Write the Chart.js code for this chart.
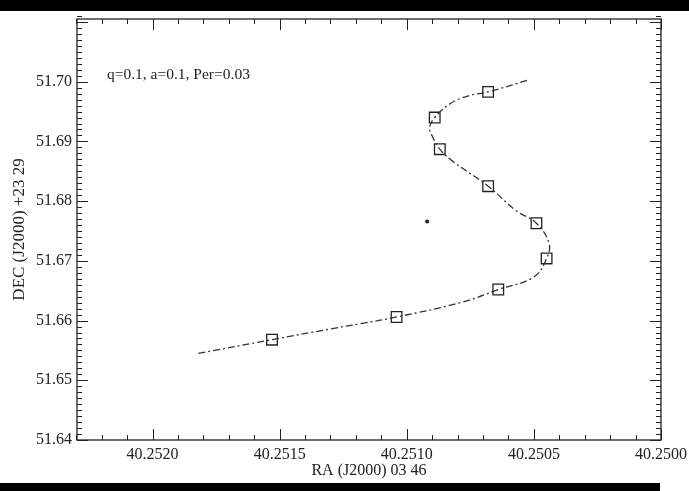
<!DOCTYPE html>
<html>
<head>
<meta charset="utf-8">
<script src="https://cdn.jsdelivr.net/npm/chart.js@4/dist/chart.umd.min.js"></script>
<style>
  html, body { margin: 0; padding: 0; background: #fff; }
  #wrap { width: 689px; height: 491px; }
</style>
</head>
<body>
<div id="wrap"><canvas id="chart" width="689" height="491"></canvas></div>
<script>
// trajectory (RA, DEC)
const trackRa  = [40.25182, 40.25153, 40.25130, 40.25118, 40.25104, 40.25078, 40.25064, 40.25050,
                  40.25045, 40.25044, 40.25049, 40.25057, 40.25068, 40.25082, 40.25087, 40.25090,
                  40.25091, 40.25089, 40.25083, 40.25076, 40.25068, 40.25052];
const trackDec = [51.6545, 51.6568, 51.6586, 51.6595, 51.6606, 51.6631, 51.6652, 51.6673,
                  51.6704, 51.6729, 51.6763, 51.6784, 51.6825, 51.6867, 51.6887, 51.6909,
                  51.6923, 51.6940, 51.6963, 51.6976, 51.6983, 51.7003];

// epochs marked with squares
const epochRa  = [40.25153, 40.25104, 40.25064, 40.25045, 40.25049, 40.25068, 40.25087, 40.25089, 40.25068];
const epochDec = [51.6568, 51.6606, 51.6652, 51.6704, 51.6763, 51.6825, 51.6887, 51.6940, 51.6983];

// centre of mass
const centreRa = [40.25092];
const centreDec = [51.6766];

const xTicks = [40.2520, 40.2515, 40.2510, 40.2505, 40.2500];
const yTicks = [51.64, 51.65, 51.66, 51.67, 51.68, 51.69, 51.70];
const xLimits = [40.2500, 40.252297];
const yLimits = [51.64, 51.7105];
const xMinorStep = 0.0001;
const yMinorStep = 0.001;

const ink = '#222';
Chart.defaults.font.family = '"Liberation Serif", "DejaVu Serif", serif';
Chart.defaults.color = ink;

function pairs(xs, ys) {
    return xs.map((v, i) => ({ x: v, y: ys[i] }));
}

const idlFrame = {
    id: 'idlFrame',
    beforeDraw(chart) {
        const ctx = chart.ctx;
        ctx.save();
        ctx.fillStyle = '#000';
        ctx.fillRect(0, 0, chart.width, 11);
        ctx.fillRect(0, 483, 660, 8);
        ctx.restore();
    },
    afterDraw(chart) {
        const { ctx, chartArea: a, scales: { x, y } } = chart;
        ctx.save();
        ctx.strokeStyle = ink;
        ctx.lineWidth = 1.3;
        ctx.strokeRect(a.left, a.top, a.right - a.left, a.bottom - a.top);

        ctx.lineWidth = 1;
        ctx.beginPath();
        const nx = Math.round((xLimits[1] - xLimits[0]) / xMinorStep);
        for (let i = 0; i <= nx; i++) {
            const px = Math.round(x.getPixelForValue(xLimits[0] + i * xMinorStep)) + 0.5;
            const len = i % 5 === 0 ? 11 : 5;
            ctx.moveTo(px, a.bottom); ctx.lineTo(px, a.bottom - len);
            ctx.moveTo(px, a.top); ctx.lineTo(px, a.top + len);
        }
        const ny = Math.round((yLimits[1] - yLimits[0]) / yMinorStep);
        for (let i = 0; i <= ny; i++) {
            const py = Math.round(y.getPixelForValue(yLimits[0] + i * yMinorStep)) + 0.5;
            const len = i % 10 === 0 ? 11 : 5;
            ctx.moveTo(a.left, py); ctx.lineTo(a.left + len, py);
            ctx.moveTo(a.right, py); ctx.lineTo(a.right - len, py);
        }
        ctx.stroke();

        ctx.fillStyle = ink;
        ctx.font = '15.5px "Liberation Serif"';
        ctx.textBaseline = 'middle';
        ctx.fillText('q=0.1, a=0.1, Per=0.03', 107, 75);
        ctx.restore();
    }
};

new Chart(document.getElementById('chart'), {
    type: 'scatter',
    data: {
        datasets: [{
            label: 'track',
            data: pairs(trackRa, trackDec),
            showLine: true,
            tension: 0.4,
            borderColor: '#333',
            borderWidth: 1.3,
            borderDash: [7, 3, 2, 3],
            pointRadius: 0,
            pointHoverRadius: 0
        }, {
            label: 'epochs',
            data: pairs(epochRa, epochDec),
            pointStyle: 'rect',
            pointRadius: 7.5,
            borderColor: ink,
            borderWidth: 1.3,
            backgroundColor: 'rgba(255,255,255,0)'
        }, {
            label: 'centre',
            data: pairs(centreRa, centreDec),
            pointRadius: 2,
            borderWidth: 0,
            backgroundColor: ink
        }]
    },
    options: {
        responsive: false,
        animation: false,
        layout: { padding: { left: 0, top: 19, right: 28, bottom: 0 } },
        scales: {
            x: {
                type: 'linear',
                reverse: true,
                min: xLimits[0],
                max: xLimits[1],
                grid: { display: false, drawTicks: false, tickLength: 0 },
                border: { display: false },
                afterBuildTicks: (s) => { s.ticks = xTicks.map(v => ({ value: v })); },
                afterFit: (s) => { s.height = 51; s.paddingLeft = 0; s.paddingRight = 0; },
                ticks: {
                    font: { size: 16 },
                    padding: 5,
                    maxRotation: 0,
                    callback: (v) => v.toFixed(4)
                },
                title: {
                    display: true,
                    text: 'RA (J2000) 03 46',
                    font: { size: 16 },
                    padding: { top: 0, bottom: 11 }
                }
            },
            y: {
                type: 'linear',
                min: yLimits[0],
                max: yLimits[1],
                grid: { display: false, drawTicks: false, tickLength: 0 },
                border: { display: false },
                afterBuildTicks: (s) => { s.ticks = yTicks.map(v => ({ value: v })); },
                afterFit: (s) => { s.width = 77; },
                ticks: {
                    font: { size: 16 },
                    padding: 5,
                    callback: (v) => v.toFixed(2)
                },
                title: {
                    display: true,
                    text: 'DEC (J2000) +23 29',
                    font: { size: 17 },
                    padding: { top: 9, bottom: 9 }
                }
            }
        },
        plugins: {
            legend: { display: false },
            tooltip: { enabled: false }
        }
    },
    plugins: [idlFrame]
});
</script>
</body>
</html>
